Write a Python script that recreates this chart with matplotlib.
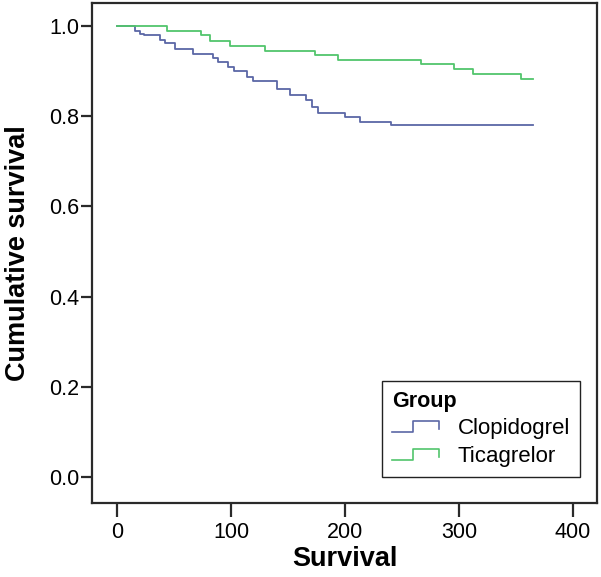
import matplotlib
matplotlib.use("Agg")
import matplotlib.pyplot as plt
from matplotlib.lines import Line2D
from matplotlib.legend_handler import HandlerBase

plt.rcParams['font.family'] = ['Liberation Sans', 'DejaVu Sans']

# Kaplan-Meier step curves (days, cumulative survival)
clop_t = [0, 16, 20, 24, 38, 42, 51, 67, 84, 89, 97, 103, 114, 119, 140, 152, 166, 171, 176, 200, 213, 240, 365]
clop_s = [1.0, 0.990, 0.983, 0.979, 0.970, 0.962, 0.950, 0.938, 0.928, 0.921, 0.910, 0.900,
          0.888, 0.877, 0.860, 0.848, 0.835, 0.820, 0.808, 0.798, 0.788, 0.780, 0.780]

tica_t = [0, 44, 74, 82, 99, 130, 174, 194, 267, 296, 312, 354, 365]
tica_s = [1.0, 0.989, 0.979, 0.966, 0.956, 0.945, 0.936, 0.925, 0.916, 0.905, 0.894, 0.883, 0.883]

groups = ['Clopidogrel', 'Ticagrelor']
colors = ['#5b67a6', '#52c56c']
xticks = [0, 100, 200, 300, 400]
yticks = [0.0, 0.2, 0.4, 0.6, 0.8, 1.0]


class StepHandler(HandlerBase):
    # legend key drawn as a little step, like SPSS does
    def create_artists(self, legend, orig_handle, xdescent, ydescent,
                       width, height, fontsize, trans):
        x0, y0 = -xdescent, -ydescent
        w, h = width, height
        xs = [x0, x0 + 0.45 * w, x0 + 0.45 * w, x0 + w, x0 + w]
        ys = [y0 + 0.1 * h, y0 + 0.1 * h, y0 + 0.9 * h, y0 + 0.9 * h, y0 + 0.3 * h]
        ln = Line2D(xs, ys, color=orig_handle.get_color(), lw=1.2, transform=trans)
        return [ln]


fig = plt.figure(figsize=(6.01, 5.77), dpi=100)
ax = fig.add_axes([0.1531, 0.1282, 0.8402, 0.8666])

h1, = ax.plot(clop_t, clop_s, drawstyle='steps-post', color=colors[0], lw=1.3)
h2, = ax.plot(tica_t, tica_s, drawstyle='steps-post', color=colors[1], lw=1.3)

ax.set_xlim(-21.9, 421)
ax.set_ylim(-0.0577, 1.051)
ax.set_xticks(xticks)
ax.set_yticks(yticks)
ax.set_yticklabels(['%.1f' % v for v in yticks])

for sp in ax.spines.values():
    sp.set_linewidth(1.6)
    sp.set_color('#2a2a2a')
ax.tick_params(axis='x', direction='out', length=10, width=1.6, color='#2a2a2a', labelsize=15.5, pad=4)
ax.tick_params(axis='y', direction='out', length=8, width=1.6, color='#2a2a2a', labelsize=15.5, pad=1)

ax.set_xlabel('Survival', fontsize=19.5, fontweight='bold', labelpad=2)
ax.set_ylabel('Cumulative survival', fontsize=19.5, fontweight='bold', labelpad=13)

leg = ax.legend([h1, h2], groups, title='Group', loc='lower left',
                bbox_to_anchor=(0.574, 0.052), borderaxespad=0,
                handler_map={Line2D: StepHandler()}, fontsize=16,
                title_fontproperties={'weight': 'bold', 'size': 15.5},
                alignment='left', fancybox=False, framealpha=1,
                edgecolor='#222222', handlelength=2.1, handletextpad=0.85,
                labelspacing=0.3, borderpad=0.45, handleheight=0.55)
leg.get_frame().set_linewidth(1.0)

fig.savefig('out.png', dpi=100)
